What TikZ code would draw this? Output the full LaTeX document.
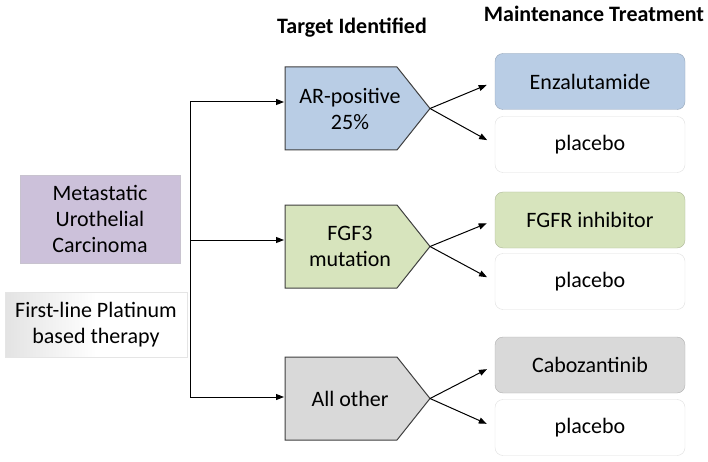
\documentclass[tikz,border=0pt]{standalone}
\usepackage{fontspec}
\setmainfont{Carlito}
\usetikzlibrary{shapes.symbols,arrows.meta}
\definecolor{blu}{HTML}{B9CDE5}
\definecolor{grn}{HTML}{D7E4BD}
\definecolor{gry}{HTML}{D9D9D9}
\definecolor{lav}{HTML}{CCC1DA}
\definecolor{edge}{HTML}{3F3F3F}
\begin{document}
\begin{tikzpicture}[x=1pt,y=-1pt,font=\fontsize{22}{26}\selectfont,
  target/.style={signal, signal to=east, signal pointer angle=103, minimum width=145pt, minimum height=83pt, draw=edge, line width=1pt, inner sep=0pt, outer sep=0pt, anchor=west},
  treat/.style={rounded corners=8pt, minimum width=190pt, minimum height=56pt, inner sep=0pt, outer sep=0pt},
  arr/.style={-{Triangle[length=8pt,width=6pt]}, line width=1pt},
  hdr/.style={font=\fontsize{22}{26}\selectfont\bfseries},
  txt/.style={align=center, inner sep=0pt}]
\useasboundingbox (0,0) rectangle (708,462);
% headers
\node[hdr] (h1) at (352,28) {Target Identified};
\node[hdr] (h2) at (594,14) {Maintenance Treatment};
% left boxes
\node[fill=lav, draw=lav!80!black!60, minimum width=160pt, minimum height=88pt, txt] (muc) at (100,219) {Metastatic\\Urothelial\\Carcinoma};
\node[left color=gray!22, right color=white, middle color=white, draw=gray!20, minimum width=182pt, minimum height=65pt, txt] (flp) at (96,324.5) {First-line Platinum\\based therapy};
% targets
\node[target, fill=blu] (ar) at (285,108.5) {};
\node[txt] (art) at (350,108.5) {AR-positive\\25\%};
\node[target, fill=grn] (fg) at (285,246.5) {};
\node[txt] (fgt) at (350,246.5) {FGF3\\mutation};
\node[target, fill=gry] (ao) at (285,398.5) {};
\node[txt] (aot) at (350,398.5) {All other};
% treatments
\node[treat, fill=blu, draw=blu!80!black] (enz) at (590,81.5) {Enzalutamide};
\node[treat, fill=white, draw=gray!25] (pl1) at (590,144.5) {placebo};
\node[treat, fill=grn, draw=grn!80!black] (fgfr) at (590,220) {FGFR inhibitor};
\node[treat, fill=white, draw=gray!25] (pl2) at (590,281.5) {placebo};
\node[treat, fill=gry, draw=gry!80!black] (cab) at (590,365) {Cabozantinib};
\node[treat, fill=white, draw=gray!25] (pl3) at (590,427.5) {placebo};
% trunk
\coordinate (t1) at (190,102);
\coordinate (t2) at (190,240);
\coordinate (t3) at (190,397);
\draw[line width=1pt] (t1) -- (t3);
\draw[arr, shorten >=1pt] (t1) -- (ar.west |- t1);
\draw[arr, shorten >=1pt] (t2) -- (fg.west |- t2);
\draw[arr, shorten >=1pt] (t3) -- (ao.west |- t3);
% fan-out
\draw[arr, shorten >=9pt] (ar.east) -- (enz.west);
\draw[arr, shorten >=9pt] (ar.east) -- (pl1.west);
\draw[arr, shorten >=9pt] (fg.east) -- (fgfr.west);
\draw[arr, shorten >=9pt] (fg.east) -- (pl2.west);
\draw[arr, shorten >=9pt] (ao.east) -- (cab.west);
\draw[arr, shorten >=9pt] (ao.east) -- (pl3.west);
\end{tikzpicture}
\end{document}
